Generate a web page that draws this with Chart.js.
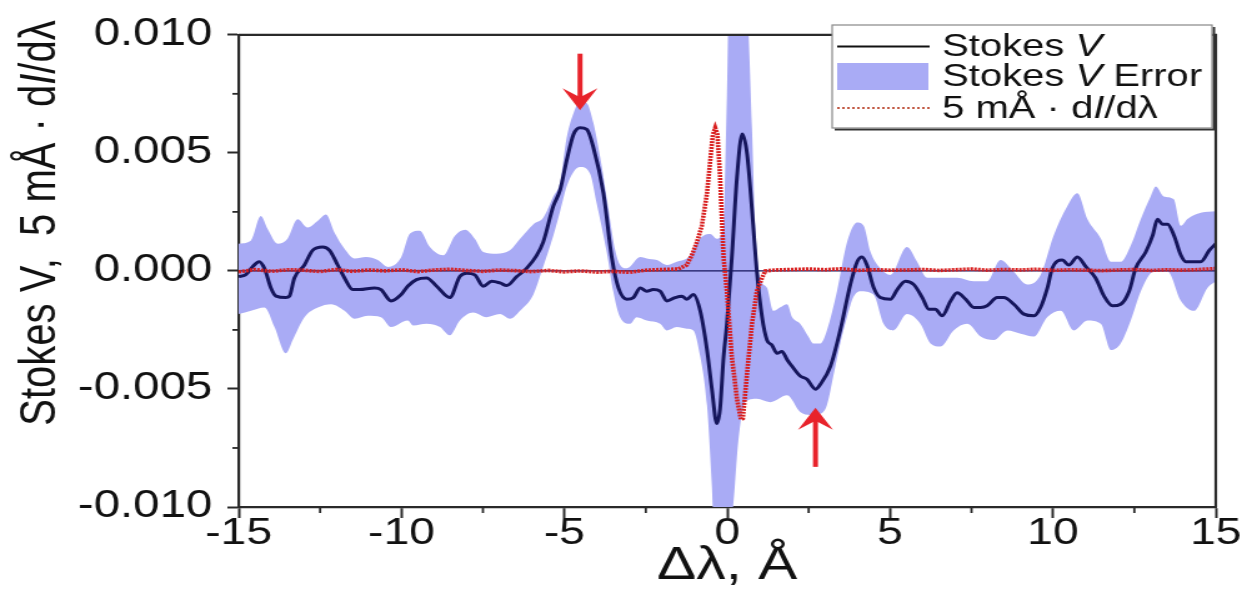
<!DOCTYPE html>
<html><head><meta charset="utf-8">
<script src="https://cdn.jsdelivr.net/npm/chart.js@4/dist/chart.umd.min.js"></script>
<style>html,body{margin:0;padding:0;background:#fff;overflow:hidden}canvas{display:block}</style>
</head><body>
<canvas id="c" width="998" height="590" style="width:1247px;height:590px;"></canvas>
<script>
// ---- data ----
const stokesX = [-15.0,-14.79,-14.57,-14.37,-14.21,-14.01,-13.85,-13.55,-13.44,-13.29,-12.98,-12.73,-12.42,-12.21,-11.96,-11.75,-11.50,-11.29,-10.83,-10.63,-10.32,-10.01,-9.81,-9.54,-9.23,-8.92,-8.52,-8.21,-8.00,-7.75,-7.49,-7.23,-6.98,-6.77,-6.46,-6.16,-5.85,-5.65,-5.34,-5.13,-4.93,-4.72,-4.52,-4.31,-4.11,-3.80,-3.54,-3.34,-3.08,-2.88,-2.67,-2.47,-2.27,-2.06,-1.85,-1.60,-1.39,-1.24,-1.04,-0.83,-0.62,-0.47,-0.32,-0.22,-0.11,-0.01,0.14,0.30,0.46,0.61,0.76,0.91,1.07,1.22,1.37,1.53,1.68,1.84,1.99,2.24,2.45,2.71,2.86,3.17,3.47,3.78,3.99,4.14,4.29,4.50,4.70,5.01,5.22,5.47,5.73,5.99,6.19,6.39,6.60,6.86,7.06,7.32,7.57,7.78,7.98,8.29,8.49,8.80,9.11,9.42,9.62,9.83,9.98,10.29,10.49,10.75,11.01,11.31,11.57,11.83,12.08,12.34,12.54,12.85,13.06,13.21,13.36,13.52,13.72,13.93,14.08,14.33,14.54,14.80,15.0];
const stokesV = [-0.00024,-0.00017,0.00018,0.00039,0.00011,-0.00072,-0.00107,-0.00113,-0.00107,-0.0003,0.00025,0.00087,0.00101,0.00087,0.00025,-0.0003,-0.00079,-0.00079,-0.00072,-0.00079,-0.00127,-0.001,-0.00065,-0.00037,-0.0003,-0.00065,-0.00113,-0.00024,-0.0001,-0.00017,-0.00065,-0.00044,-0.00051,-0.00062,-0.00024,0.00011,0.00066,0.00122,0.00274,0.00343,0.00468,0.00578,0.00606,0.00599,0.00523,0.00329,0.00053,-0.00072,-0.0012,-0.00113,-0.00072,-0.00086,-0.00079,-0.00086,-0.00127,-0.00113,-0.00107,-0.0012,-0.001,-0.00169,-0.00335,-0.00501,-0.00646,-0.00584,-0.00362,-0.00224,0.00053,0.00398,0.0058,0.00495,0.0026,-0.00003,-0.00196,-0.00293,-0.00314,-0.00349,-0.00341,-0.00376,-0.00404,-0.00445,-0.00459,-0.00501,-0.0048,-0.00404,-0.00252,-0.00058,0.00039,0.00059,0.00025,-0.00072,-0.00113,-0.0012,-0.00079,-0.00044,-0.00058,-0.00113,-0.00162,-0.00162,-0.0019,-0.00127,-0.00093,-0.0012,-0.00155,-0.00155,-0.00148,-0.00113,-0.00113,-0.00141,-0.00183,-0.0019,-0.00155,-0.00072,0.00011,0.00046,0.00025,0.00059,0.00018,-0.0003,-0.00107,-0.00148,-0.00141,-0.00086,0.00011,0.0008,0.00149,0.00219,0.00198,0.00198,0.00149,0.00066,0.00039,0.00039,0.00039,0.00087,0.00115];

const errUpperX = [-15.0,-14.62,-14.32,-14.11,-13.80,-13.50,-13.19,-12.88,-12.57,-12.32,-12.06,-11.75,-11.44,-11.09,-10.73,-10.42,-10.01,-9.74,-9.44,-9.13,-8.72,-8.36,-8.05,-7.75,-7.49,-7.08,-6.67,-6.36,-5.95,-5.65,-5.34,-5.13,-4.93,-4.72,-4.52,-4.31,-4.11,-3.90,-3.66,-3.44,-3.29,-3.08,-2.67,-2.47,-2.16,-1.85,-1.55,-1.24,-1.14,-0.93,-0.73,-0.52,-0.32,-0.11,-0.01,0.06,0.55,0.65,0.76,0.86,1.01,1.22,1.42,1.63,1.84,1.99,2.24,2.49,2.64,2.86,3.06,3.37,3.68,3.99,4.19,4.40,4.70,5.01,5.52,5.83,6.14,6.55,7.06,7.56,7.98,8.39,8.79,9.21,9.62,10.02,10.44,10.75,11.06,11.47,11.78,12.08,12.39,12.70,13.00,13.16,13.40,13.71,13.93,14.13,14.54,15.0];
const errUpperV = [0.00115,0.00129,0.00232,0.00177,0.00115,0.00136,0.00219,0.00184,0.00212,0.00239,0.00163,0.00094,0.00053,0.00059,0.00046,0.00017,0.00058,0.00158,0.0017,0.00101,0.00066,0.00149,0.00174,0.00136,0.0008,0.00073,0.00087,0.00136,0.00198,0.00225,0.00315,0.00378,0.00564,0.00668,0.00718,0.0071,0.00627,0.00481,0.00274,0.00087,0.00025,0.00011,0.00059,0.00053,0.00046,0.00025,0.00039,0.00053,0.00066,0.00122,0.00149,0.00156,0.00136,0.00191,0.00744,0.012,0.012,0.0102,0.00606,0.00191,-0.00029,-0.00071,-0.00169,-0.00154,-0.00141,-0.00195,-0.00224,-0.00278,-0.00307,-0.00307,-0.00252,-0.00086,0.00122,0.00205,0.00191,0.0008,0.00011,-0.00017,0.00101,0.00039,-0.00029,-0.00029,-0.00029,-0.00044,-0.00044,0.00046,-0.00003,-0.00058,-0.00017,0.00149,0.00274,0.00329,0.00219,0.00137,0.00039,0.00039,0.00108,0.0022,0.00315,0.00357,0.00315,0.00303,0.00191,0.0022,0.00246,0.00253];

const errLowerX = [-15.0,-14.62,-14.21,-13.90,-13.55,-13.34,-12.98,-12.57,-12.16,-11.75,-11.44,-11.04,-10.63,-10.32,-9.81,-9.64,-9.23,-8.82,-8.52,-8.21,-7.80,-7.39,-6.98,-6.67,-6.36,-5.95,-5.70,-5.34,-5.13,-4.93,-4.72,-4.52,-4.21,-4.01,-3.70,-3.50,-3.29,-2.98,-2.78,-2.47,-2.06,-1.85,-1.55,-1.24,-1.04,-0.83,-0.62,-0.47,-0.42,0.09,0.18,0.34,0.55,0.91,1.32,1.84,2.24,2.55,2.86,3.06,3.26,3.47,3.68,3.87,4.09,4.49,4.80,5.10,5.52,5.93,6.24,6.55,6.95,7.37,7.78,8.18,8.60,9.01,9.41,9.83,10.24,10.64,11.06,11.47,11.78,12.08,12.39,12.70,13.10,13.52,13.93,14.33,14.75,15.0];
const errLowerV = [-0.00183,-0.00169,-0.00155,-0.00238,-0.00349,-0.00293,-0.00196,-0.00155,-0.00141,-0.00169,-0.00203,-0.0019,-0.00196,-0.00238,-0.0021,-0.00231,-0.00224,-0.00238,-0.00273,-0.0021,-0.00176,-0.00196,-0.00183,-0.00203,-0.00169,-0.001,-0.00003,0.00149,0.00253,0.00357,0.00419,0.0044,0.00412,0.00288,0.0008,-0.00086,-0.00196,-0.00224,-0.00196,-0.0021,-0.00224,-0.00252,-0.00238,-0.00245,-0.00252,-0.00362,-0.0057,-0.00916,-0.0106,-0.0106,-0.01,-0.00722,-0.00556,-0.00542,-0.00556,-0.00527,-0.00598,-0.0061,-0.00605,-0.00569,-0.00444,-0.00307,-0.00195,-0.00112,-0.00086,-0.001,-0.00224,-0.00252,-0.00183,-0.00224,-0.00307,-0.0032,-0.00252,-0.00224,-0.00278,-0.00293,-0.00252,-0.00266,-0.00278,-0.00195,-0.00169,-0.00252,-0.0021,-0.00224,-0.00335,-0.00307,-0.0021,-0.00086,-0.00003,-0.00003,-0.00127,-0.00169,-0.00071,-0.00044];

const derivX = [-15,-14.5,-14,-13.5,-13,-12.5,-12,-11.5,-11,-10.5,-10,-9.5,-9,-8.5,-8,-7.5,-7,-6.5,-6,-5.5,-5,-4.5,-4,-3.5,-3,-2.5,-2,-1.5,-1.24,-1.09,-0.93,-0.78,-0.62,-0.52,-0.44,-0.37,-0.30,-0.22,-0.11,-0.01,0.14,0.30,0.42,0.48,0.61,0.76,0.91,1.07,1.17,1.5,2,2.5,3,3.5,4,4.5,5,5.5,6,6.5,7,7.5,8,8.5,9,9.5,10,10.5,11,11.5,12,12.5,13,13.5,14,14.5,15];
const derivV = [-0.00004,0.00006,-0.00002,0.00005,0.00003,-0.00003,0.00006,-0.00002,0.00004,0.0,0.00005,-0.00003,0.00004,0.00007,0.00002,-0.00002,0.00004,0.00001,-0.00003,0.00002,-0.00004,0.0,-0.00005,-0.00002,-0.00006,0.00003,0.00006,0.00008,0.00025,0.00066,0.00122,0.00191,0.00329,0.0047,0.00578,0.00606,0.00578,0.00398,0.00053,-0.00086,-0.00362,-0.00543,-0.0063,-0.00625,-0.00432,-0.00224,-0.00086,-0.00029,0.0,0.00004,0.00006,0.00008,0.00005,0.00009,0.00002,0.00005,0.00003,0.00004,0.00006,0.00002,0.00005,0.00008,0.00003,0.00006,0.00004,0.00007,0.00002,0.00005,0.00003,0.00001,0.00004,0.00006,0.00002,0.00005,0.00003,0.00006,0.0001];

const zeroX = [-15, 15];
const zeroV = [0, 0];

const xTicks = [-15, -10, -5, 0, 5, 10, 15];
const yTicks = [-0.010, -0.005, 0.000, 0.005, 0.010];
const xMinor = [-12.5, -7.5, -2.5, 2.5, 7.5, 12.5];
const yMinor = [-0.0075, -0.0025, 0.0025, 0.0075];

const arrowX = [-4.52, 2.71];
const arrowTail = [0.0092, -0.0083];
const arrowTip = [0.0068, -0.0058];

const xTitle = 'Δλ, Å';
const yTitleParts = [['Stokes V,  5 mÅ · d', false], ['I', true], ['/dλ', false]];
const legendRows = [
  [['Stokes ', false], ['V', true]],
  [['Stokes ', false], ['V', true], [' Error', false]],
  [['5 mÅ · d', false], ['I', true], ['/dλ', false]]
];

// ---- styles ----
const NAVY = '#16165c';
const BAND = '#a9abf5';
const RED = '#d81e1e';
const ARROW = '#e8232b';
const AXIS = '#2a2a2a';
const FONT = "'Liberation Sans', Arial, sans-serif";

const pts = (xs, ys) => xs.map((x, i) => ({x: x, y: ys[i]}));

function drawRich(ctx, parts, x, y, size, align) {
  let total = 0;
  const widths = parts.map(([t, it]) => {
    ctx.font = (it ? 'italic ' : '') + size + 'px ' + FONT;
    const w = ctx.measureText(t).width; total += w; return w;
  });
  let cx = align === 'center' ? x - total / 2 : x;
  ctx.textAlign = 'left';
  parts.forEach(([t, it], i) => {
    ctx.font = (it ? 'italic ' : '') + size + 'px ' + FONT;
    ctx.fillText(t, cx, y);
    cx += widths[i];
  });
}

const deco = {
  id: 'deco',
  afterDatasetsDraw(chart) {
    const ctx = chart.ctx, xs = chart.scales.x, ys = chart.scales.y;
    ctx.save();
    ctx.fillStyle = ARROW; ctx.strokeStyle = ARROW;
    arrowX.forEach((ax, i) => {
      const px = xs.getPixelForValue(ax);
      const pt = ys.getPixelForValue(arrowTail[i]);
      const pp = ys.getPixelForValue(arrowTip[i]);
      const dir = pp > pt ? 1 : -1;
      const hl = 22, hw = 14;
      ctx.lineWidth = 4;
      ctx.beginPath(); ctx.moveTo(px, pt); ctx.lineTo(px, pp - dir * 6); ctx.stroke();
      ctx.beginPath();
      ctx.moveTo(px, pp);
      ctx.lineTo(px - hw, pp - dir * hl);
      ctx.lineTo(px, pp - dir * (hl - 9));
      ctx.lineTo(px + hw, pp - dir * hl);
      ctx.closePath(); ctx.fill();
    });
    ctx.restore();
  },
  afterDraw(chart) {
    const ctx = chart.ctx, a = chart.chartArea, xs = chart.scales.x, ys = chart.scales.y;
    ctx.save();
    // frame top/right
    ctx.strokeStyle = AXIS; ctx.lineWidth = 2.2;
    ctx.beginPath(); ctx.moveTo(a.left, a.top); ctx.lineTo(a.right, a.top); ctx.lineTo(a.right, a.bottom); ctx.stroke();
    // minor ticks
    ctx.lineWidth = 1.8;
    xMinor.forEach(v => { const p = xs.getPixelForValue(v); ctx.beginPath(); ctx.moveTo(p, a.bottom); ctx.lineTo(p, a.bottom + 6); ctx.stroke(); });
    yMinor.forEach(v => { const p = ys.getPixelForValue(v); ctx.beginPath(); ctx.moveTo(a.left, p); ctx.lineTo(a.left - 5, p); ctx.stroke(); });
    // y title
    ctx.fillStyle = '#111'; ctx.textBaseline = 'middle';
    ctx.save();
    ctx.translate(33, 223);
    ctx.rotate(-Math.PI / 2);
    drawRich(ctx, yTitleParts, 0, 0, 40, 'center');
    ctx.restore();
    // legend
    const L = 666, T = 25, R = 970, B = 128;
    ctx.fillStyle = '#fff'; ctx.fillRect(L, T, R - L, B - T);
    ctx.strokeStyle = '#333'; ctx.lineWidth = 2;
    ctx.beginPath(); ctx.moveTo(R + 1.5, T + 2); ctx.lineTo(R + 1.5, B + 1.5); ctx.lineTo(L + 2, B + 1.5); ctx.stroke();
    ctx.strokeStyle = '#888'; ctx.lineWidth = 1.2; ctx.strokeRect(L, T, R - L, B - T);
    const rowsY = [46.5, 76.5, 108];
    ctx.strokeStyle = '#111'; ctx.lineWidth = 1.8;
    ctx.beginPath(); ctx.moveTo(670, rowsY[0]); ctx.lineTo(744, rowsY[0]); ctx.stroke();
    ctx.fillStyle = BAND; ctx.fillRect(670, 63, 73, 27);
    ctx.strokeStyle = '#c25a45'; ctx.lineWidth = 2; ctx.setLineDash([2, 2]);
    ctx.beginPath(); ctx.moveTo(670, rowsY[2]); ctx.lineTo(744, rowsY[2]); ctx.stroke();
    ctx.setLineDash([]);
    ctx.fillStyle = '#111';
    legendRows.forEach((r, i) => drawRich(ctx, r, 754, rowsY[i] + 1, 32, 'left'));
    ctx.restore();
  }
};

new Chart(document.getElementById('c'), {
  type: 'line',
  data: {
    datasets: [
      {label: '5 mÅ · dI/dλ', data: pts(derivX, derivV), borderColor: RED, borderWidth: 3.6, borderDash: [2, 1], pointRadius: 0, fill: false, order: 0},
      {label: 'Stokes V', data: pts(stokesX, stokesV), borderColor: NAVY, borderWidth: 3, pointRadius: 0, fill: false, cubicInterpolationMode: 'monotone', order: 1},
      {label: 'zero', data: pts(zeroX, zeroV), borderColor: NAVY, borderWidth: 1.2, pointRadius: 0, fill: false, order: 2},
      {label: 'Stokes V Error', data: pts(errUpperX, errUpperV), borderWidth: 0, borderColor: 'rgba(0,0,0,0)', backgroundColor: BAND, pointRadius: 0, fill: '+1', cubicInterpolationMode: 'monotone', order: 3},
      {label: 'err-lower', data: pts(errLowerX, errLowerV), borderWidth: 0, borderColor: 'rgba(0,0,0,0)', pointRadius: 0, fill: false, cubicInterpolationMode: 'monotone', order: 4}
    ]
  },
  options: {
    responsive: false,
    animation: false,
    devicePixelRatio: 1,
    events: [],
    layout: {padding: {left: 0, right: 25, top: 25, bottom: 0}},
    plugins: {legend: {display: false}, tooltip: {enabled: false}},
    scales: {
      x: {
        type: 'linear', min: -15, max: 15,
        afterBuildTicks: s => { s.ticks = xTicks.map(v => ({value: v})); },
        afterFit: s => { s.height = 83; },
        grid: {drawOnChartArea: false, drawTicks: true, tickLength: 11, tickWidth: 2, color: AXIS},
        border: {display: true, color: AXIS, width: 2.2},
        ticks: {color: '#111', font: {family: FONT, size: 37}, padding: -6, maxRotation: 0, callback: v => String(v)},
        title: {display: true, text: xTitle, color: '#111', font: {family: FONT, size: 47, lineHeight: 1.0}, padding: {top: 0, bottom: 0}}
      },
      y: {
        type: 'linear', min: -0.01, max: 0.01,
        afterBuildTicks: s => { s.ticks = yTicks.map(v => ({value: v})); },
        afterFit: s => { s.width = 191; },
        grid: {drawOnChartArea: false, drawTicks: true, tickLength: 9, tickWidth: 2, color: AXIS},
        border: {display: true, color: AXIS, width: 2.2},
        ticks: {color: '#111', font: {family: FONT, size: 38}, padding: 12, callback: v => v.toFixed(3)}
      }
    }
  },
  plugins: [deco]
});
</script>
</body></html>
